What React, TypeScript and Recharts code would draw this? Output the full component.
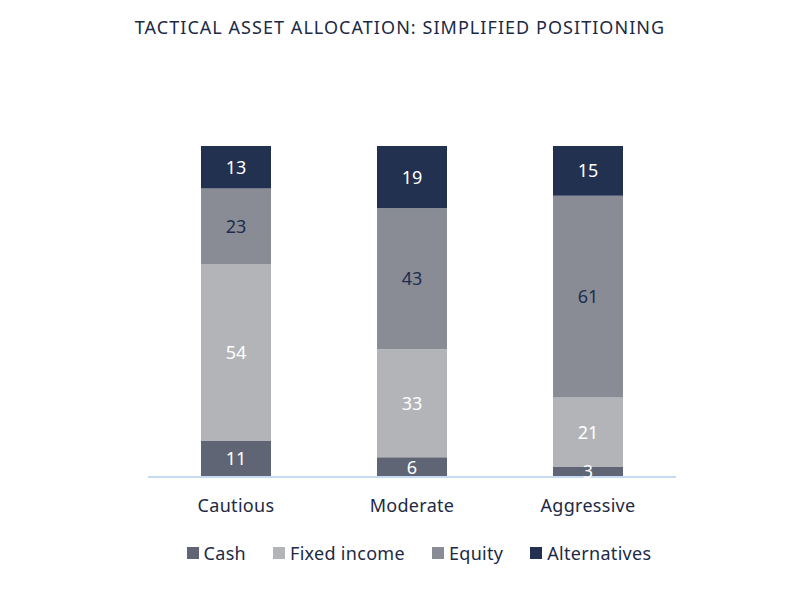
import * as React from "react";
import { BarChart, Bar, XAxis, YAxis, LabelList } from "recharts";

const categories = ["Cautious", "Moderate", "Aggressive"];
const cash = [11, 6, 3];
const fixedIncome = [54, 33, 21];
const equity = [23, 43, 61];
const alternatives = [13, 19, 15];

const series = [
  { key: "cash", name: "Cash", values: cash, color: "#5f6574", label: "#ffffff" },
  { key: "fixed", name: "Fixed income", values: fixedIncome, color: "#b3b4b8", label: "#ffffff" },
  { key: "equity", name: "Equity", values: equity, color: "#8a8c95", label: "#1c2d4f" },
  { key: "alt", name: "Alternatives", values: alternatives, color: "#233150", label: "#ffffff" },
];

const data = categories.map((c, i) => {
  const row: Record<string, string | number> = { name: c };
  series.forEach((s) => (row[s.key] = s.values[i]));
  return row;
});

const FONT = "'Noto Sans', sans-serif";
const TEXT = "#1c2a45";

export default function App() {
  return (
    <div style={{ position: "absolute", left: 0, top: 0, width: 800, height: 608, background: "#fff" }}>
      <div
        style={{
          position: "absolute",
          top: 15,
          left: 0,
          width: 800,
          textAlign: "center",
          fontFamily: FONT,
          fontSize: 18,
          letterSpacing: 1.05,
          color: TEXT,
        }}
      >
        TACTICAL ASSET ALLOCATION: SIMPLIFIED POSITIONING
      </div>
      <BarChart
        width={800}
        height={608}
        data={data}
        stackOffset="expand"
        margin={{ top: 146, left: 148, right: 124, bottom: 91 }}
        barSize={70}
      >
        <XAxis
          dataKey="name"
          axisLine={{ stroke: "#c6daf2", strokeWidth: 2 }}
          tickLine={false}
          height={40}
          tickMargin={16}
          tick={{ fill: TEXT, fontSize: 18, fontFamily: FONT, letterSpacing: 0.3 }}
        />
        <YAxis hide width={0} />
        {series.map((s) => (
          <Bar key={s.key} dataKey={s.key} name={s.name} stackId="a" fill={s.color} isAnimationActive={false}>
            <LabelList
              dataKey={s.key}
              position="center"
              fill={s.label}
              style={{ fontSize: 18, fontFamily: FONT }}
            />
          </Bar>
        ))}
      </BarChart>
      <div
        style={{
          position: "absolute",
          top: 541,
          left: 0,
          width: 800,
          display: "flex",
          justifyContent: "center",
          gap: 27,
          fontFamily: FONT,
          fontSize: 18,
          letterSpacing: 0.3,
          color: TEXT,
          paddingLeft: 38,
          boxSizing: "border-box",
        }}
      >
        {series.map((s) => (
          <div key={s.key} style={{ display: "flex", alignItems: "center" }}>
            <span
              style={{
                display: "inline-block",
                width: 12,
                height: 12,
                background: s.color,
                marginRight: 5,
              }}
            />
            <span>{s.name}</span>
          </div>
        ))}
      </div>
    </div>
  );
}
